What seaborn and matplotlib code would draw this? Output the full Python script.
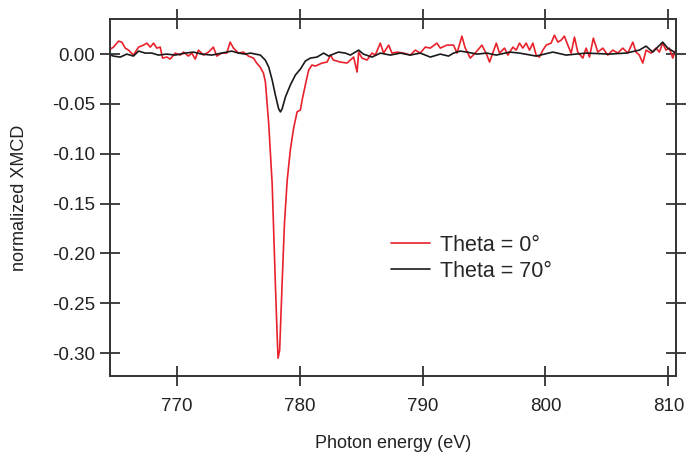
import matplotlib
matplotlib.use("Agg")
import numpy as np
import pandas as pd
import seaborn as sns
import matplotlib.pyplot as plt

# Theta = 0 deg (red)
e_red = [764.6, 764.85, 765.26, 765.53, 765.8, 766.07, 766.47, 766.89, 767.29, 767.56,
         767.84, 768.11, 768.37, 768.65, 768.84, 769.19, 769.46, 769.87, 770.28, 770.54,
         770.95, 771.22, 771.5, 771.76, 772.17, 772.58, 772.98, 773.25, 773.66, 774.07,
         774.34, 774.61, 775.02, 775.42, 775.83, 776.24, 776.5, 776.78, 777.05, 777.21,
         777.35, 777.48, 777.76, 778.02, 778.16, 778.24, 778.37, 778.57, 778.76, 778.98,
         779.24, 779.51, 779.79, 780.06, 780.2, 780.46, 780.73, 781.0, 781.28, 781.82,
         782.23, 782.5, 782.74, 783.31, 783.85, 784.39, 784.67, 784.8, 785.07, 785.48,
         785.89, 786.15, 786.56, 786.83, 787.24, 787.51, 787.92, 788.46, 789.0, 789.41,
         789.81, 790.22, 790.63, 791.17, 791.44, 791.98, 792.52, 792.8, 793.2, 793.47,
         793.88, 794.28, 794.83, 795.24, 795.45, 796.0, 796.26, 796.67, 796.94, 797.35,
         797.62, 797.89, 798.16, 798.43, 798.7, 798.98, 799.24, 799.51, 799.79, 800.06,
         800.46, 800.73, 801.01, 801.28, 801.54, 801.82, 802.09, 802.36, 802.63, 803.04,
         803.31, 803.58, 803.9, 804.26, 804.67, 805.07, 805.48, 805.89, 806.29, 806.7,
         807.11, 807.37, 807.64, 807.92, 808.19, 808.59, 809.0, 809.27, 809.54, 809.81,
         810.08, 810.36, 810.55]
xmcd_red = [0.005, 0.007, 0.013, 0.012, 0.006, 0.004, -0.001, 0.007, 0.009, 0.011,
            0.007, 0.011, 0.006, 0.007, -0.004, -0.003, -0.005, 0.001, -0.001, 0.002,
            -0.002, 0.001, -0.005, 0.004, -0.001, 0.002, 0.007, -0.002, 0.001, 0.001,
            0.012, 0.006, 0.001, 0.002, -0.002, -0.004, -0.009, -0.013, -0.019, -0.028,
            -0.05, -0.07, -0.13, -0.23, -0.28, -0.305, -0.297, -0.23, -0.17, -0.127,
            -0.096, -0.074, -0.058, -0.056, -0.046, -0.031, -0.016, -0.011, -0.012, -0.009,
            -0.008, -0.001, -0.006, -0.008, -0.009, -0.003, -0.018, 0.002, -0.004, -0.006,
            0.001, -0.001, 0.011, 0.001, 0.009, 0.001, 0.002, 0.001, -0.001, 0.004,
            0.001, 0.007, 0.006, 0.011, 0.006, 0.009, 0.009, 0.001, 0.018, 0.006,
            -0.004, 0.001, 0.009, -0.001, -0.008, 0.011, 0.001, 0.006, -0.001, 0.007,
            0.004, 0.011, 0.006, 0.011, 0.004, 0.011, -0.001, -0.003, 0.004, 0.009,
            0.011, 0.019, 0.012, 0.014, 0.018, 0.009, 0.001, 0.017, 0.002, -0.004,
            0.006, -0.003, 0.016, 0.002, 0.006, -0.001, 0.004, 0.001, 0.006, 0.001,
            0.012, 0.002, -0.001, -0.009, 0.004, 0.001, 0.006, 0.002, 0.011, 0.004,
            0.006, -0.004, 0.003]

# Theta = 70 deg (black)
e_black = [764.6, 764.85, 765.4, 765.93, 766.47, 766.89, 767.43, 767.97, 768.51, 769.19,
           769.87, 770.68, 771.36, 772.03, 772.85, 773.66, 774.47, 775.02, 775.56, 775.99,
           776.4, 776.8, 777.2, 777.48, 777.76, 778.02, 778.29, 778.43, 778.57, 778.84,
           779.24, 779.65, 780.06, 780.46, 780.87, 781.41, 781.95, 782.36, 782.74, 783.15,
           783.72, 784.12, 784.8, 785.18, 785.89, 786.56, 787.37, 788.19, 789.0, 789.81,
           790.63, 791.44, 792.11, 792.52, 793.06, 793.61, 794.42, 795.24, 796.0, 797.08,
           797.89, 799.24, 800.6, 801.68, 803.31, 805.2, 806.56, 807.64, 808.19, 808.73,
           809.54, 809.95, 810.36, 810.55]
xmcd_black = [-0.001, -0.002, -0.003, 0.0, -0.002, 0.003, 0.001, 0.001, -0.001, 0.0,
              -0.001, 0.001, 0.002, 0.0, -0.001, 0.001, 0.003, 0.001, 0.0, 0.001,
              0.0, -0.001, -0.006, -0.013, -0.026, -0.041, -0.055, -0.058, -0.055, -0.043,
              -0.031, -0.021, -0.015, -0.007, -0.004, -0.003, 0.001, -0.002, 0.0, 0.002,
              0.001, -0.001, 0.004, 0.0, -0.003, 0.001, -0.001, 0.001, -0.001, 0.001,
              -0.003, 0.0, -0.002, 0.001, 0.003, 0.002, 0.0, 0.001, -0.001, 0.002,
              0.001, -0.002, 0.002, -0.001, 0.001, 0.0, 0.001, 0.004, 0.008, 0.002,
              0.012, 0.006, 0.003, 0.001]

labels = ["Theta = 0°", "Theta = 70°"]

df = pd.concat([
    pd.DataFrame({"energy": e_red, "xmcd": xmcd_red, "sample": labels[0]}),
    pd.DataFrame({"energy": e_black, "xmcd": xmcd_black, "sample": labels[1]}),
])

sns.set_style("ticks")
plt.rcParams["font.family"] = ["Liberation Sans", "DejaVu Sans"]
plt.rcParams["axes.unicode_minus"] = False

fig = plt.figure(figsize=(6.86, 4.57), dpi=100)
ax = fig.add_axes([0.161, 0.177, 0.824, 0.781])

sns.lineplot(data=df, x="energy", y="xmcd", hue="sample", estimator=None,
             palette={labels[0]: "#e8212b", labels[1]: "#1a1a1a"},
             linewidth=1.2, ax=ax)

ax.set_xlim(764.6, 810.6)
ax.set_ylim(-0.323, 0.035)
ax.set_xticks([770, 780, 790, 800, 810])
ax.set_yticks([0.0, -0.05, -0.10, -0.15, -0.20, -0.25, -0.30])
ax.set_yticklabels(["0.00", "-0.05", "-0.10", "-0.15", "-0.20", "-0.25", "-0.30"])

for s in ax.spines.values():
    s.set_color("#333333")
    s.set_linewidth(1.4)
ax.tick_params(direction="inout", length=14, width=1.3, color="#333333",
               labelsize=13.5, top=True, right=True, labelcolor="#222222")
ax.tick_params(axis="y", pad=4)
ax.tick_params(axis="x", pad=9)

ax.set_xlabel("Photon energy (eV)", fontsize=13, color="#222222", labelpad=14)
ax.set_ylabel("normalized XMCD", fontsize=13, color="#222222", labelpad=17)

ax.legend(frameon=False, loc="center left", bbox_to_anchor=(0.477, 0.33),
          borderpad=0, fontsize=15.5, handlelength=1.8, handletextpad=0.5,
          labelspacing=0.25)

fig.savefig("out.png", dpi=100)
